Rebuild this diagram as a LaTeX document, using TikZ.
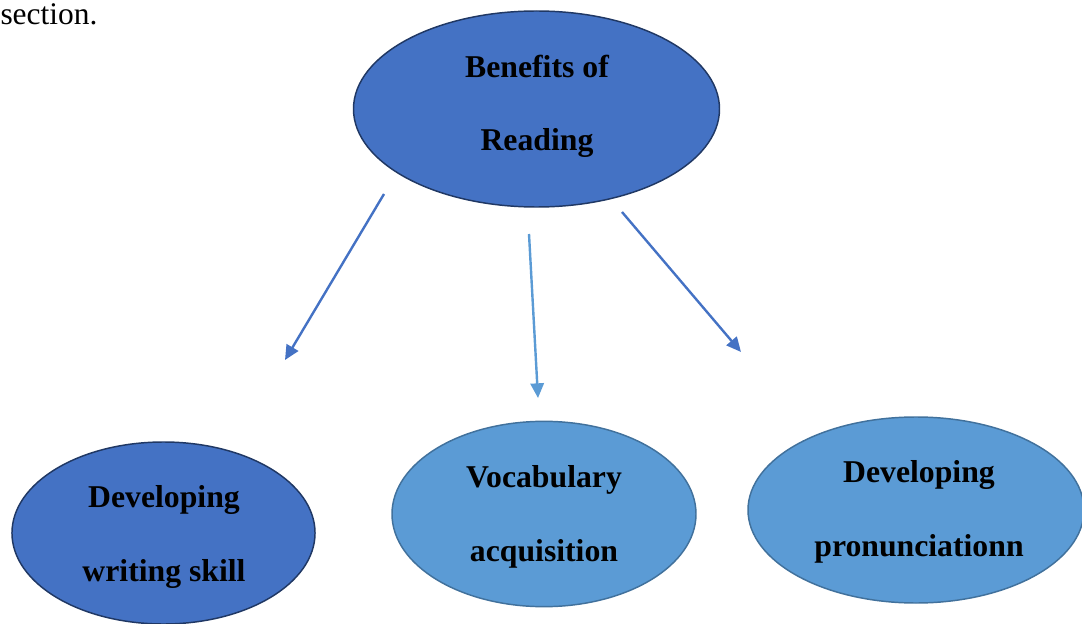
\documentclass[tikz,border=0pt]{standalone}
\usepackage{fontspec}
\setmainfont{Liberation Serif}
\usetikzlibrary{shapes.geometric,arrows.meta}

\definecolor{darkblue}{RGB}{68,114,196}
\definecolor{lightblue}{RGB}{91,155,213}
\definecolor{navyline}{RGB}{32,56,100}
\definecolor{steelline}{RGB}{65,113,156}

\tikzset{every picture/.style={line width=0.75pt}}
\tikzset{
  bubble/.style={ellipse, draw, line width=1.1pt, inner sep=0pt},
  bubbletext/.style={align=center, font=\fontsize{23.8}{55}\selectfont\bfseries},
  linkarrow/.style={line width=1.8pt, -{Triangle[length=11pt,width=10pt]}}
}

\begin{document}
\begin{tikzpicture}[x=0.75pt,y=0.75pt,yscale=-1,xscale=1]
\path[use as bounding box] (0,0) rectangle (1082,624);

% Caption fragment
\node (sect) [anchor=base west, inner sep=0pt, font=\fontsize{23.6}{28}\selectfont] at (0,25) {section.};

% Ellipses
\node (benefit) [bubble, fill=darkblue, draw=navyline, minimum width=274.5pt, minimum height=147pt] at (536.5,109) {};
\node (writing) [bubble, fill=darkblue, draw=navyline, minimum width=227.3pt, minimum height=136.5pt] at (163.5,533) {};
\node (vocab) [bubble, fill=lightblue, draw=steelline, minimum width=228pt, minimum height=139pt] at (544,514) {};
\node (pronun) [bubble, fill=lightblue, draw=steelline, minimum width=252pt, minimum height=139.5pt] at (916,510) {};

% Text Node
\node (benefitlbl) [bubbletext] at (537,106) {Benefits of\\Reading};
\node (writinglbl) [bubbletext] at (164,537) {Developing\\writing skill};
\node (vocablbl) [bubbletext] at (544,517) {Vocabulary\\acquisition};
\node (pronunlbl) [bubbletext] at (919,512) {Developing\\pronunciationn};

% Arrows
\coordinate (l0) at (384,194);
\coordinate (l1) at (285,360);
\coordinate (m0) at (529,234);
\coordinate (m1) at (538,398);
\coordinate (r0) at (622,212);
\coordinate (r1) at (741,352);
\draw [linkarrow, darkblue] (l0) -- (l1);
\draw [linkarrow, lightblue] (m0) -- (m1);
\draw [linkarrow, darkblue] (r0) -- (r1);

\end{tikzpicture}
\end{document}
